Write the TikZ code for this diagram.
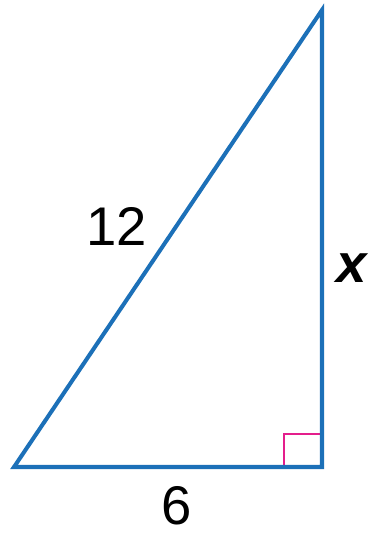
\documentclass[tikz,border=0pt]{standalone}
\usepackage{fontspec}
\setmainfont{Liberation Sans}
\usetikzlibrary{calc}
\definecolor{triblue}{RGB}{28,112,184}
\definecolor{anglepink}{RGB}{228,30,140}

\begin{document}
\begin{tikzpicture}[x=0.02cm,y=-0.02cm]
	\useasboundingbox (0,0) rectangle (370,534);
	\tikzset{side/.style={triblue,line width=2.3pt,line join=miter},
		lbl/.style={font=\fontsize{31}{31}\selectfont,inner sep=0pt}}
	% vertices
	\coordinate (A) at (14,467);
	\coordinate (C) at (322,467);
	\coordinate (B) at (322,10);
	% right angle mark
	\draw[anglepink,line width=1.7pt] ($(C)+(-38,0)$) -- ($(C)+(-38,-33)$) -- ($(C)+(0,-33)$);
	% triangle
	\draw[side] (A) -- (C) -- (B) -- cycle;
	% labels
	\node[lbl] (hyp) at (117,226) {12};
	\node[lbl] (base) at (177,506) {6};
	\node[lbl,font=\fontsize{31}{31}\selectfont\bfseries\itshape] (leg) at (352,268) {x};
\end{tikzpicture}
\end{document}
